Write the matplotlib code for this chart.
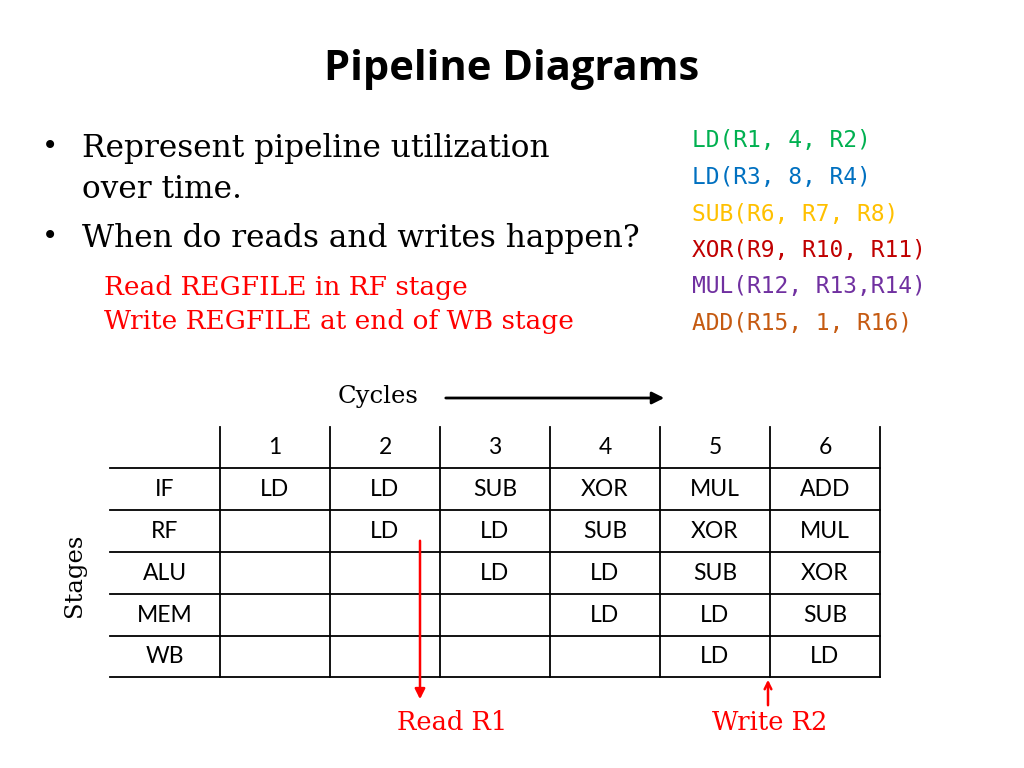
import matplotlib.pyplot as plt

# --- Data ---
title = 'Pipeline Diagrams'
bullets = ['Represent pipeline utilization\nover time.', 'When do reads and writes happen?']
notes = ['Read REGFILE in RF stage', 'Write REGFILE at end of WB stage']
code_lines = ['LD(R1, 4, R2)', 'LD(R3, 8, R4)', 'SUB(R6, R7, R8)',
              'XOR(R9, R10, R11)', 'MUL(R12, R13,R14)', 'ADD(R15, 1, R16)']
code_colors = ['#00b050', '#0070c0', '#ffc000', '#c00000', '#7030a0', '#c55a11']
cycles = ['1', '2', '3', '4', '5', '6']
stages = ['IF', 'RF', 'ALU', 'MEM', 'WB']
table = [
    ['LD', 'LD', 'SUB', 'XOR', 'MUL', 'ADD'],
    ['', 'LD', 'LD', 'SUB', 'XOR', 'MUL'],
    ['', '', 'LD', 'LD', 'SUB', 'XOR'],
    ['', '', '', 'LD', 'LD', 'SUB'],
    ['', '', '', '', 'LD', 'LD'],
]

RED = '#ff0000'
serif = 'DejaVu Serif'
mono = 'DejaVu Sans Mono'
sans = 'Lato'

fig = plt.figure(figsize=(10.24, 7.68), dpi=100)
ax = fig.add_axes([0, 0, 1, 1])
ax.set_xlim(0, 1024)
ax.set_ylim(768, 0)
ax.axis('off')

ax.text(512, 70, title, ha='center', va='center', fontsize=30, fontweight='bold', family='Open Sans')

# bullets
bfs = 22.5
ax.text(42, 148, '\u2022', fontsize=20, va='center', family=serif)
ax.text(82, 148, 'Represent pipeline utilization', fontsize=bfs, va='center', family=serif)
ax.text(82, 190, 'over time.', fontsize=bfs, va='center', family=serif)
ax.text(42, 238, '\u2022', fontsize=20, va='center', family=serif)
ax.text(82, 238, bullets[1], fontsize=bfs, va='center', family=serif)
for i, n in enumerate(notes):
    ax.text(104, 287 + 34 * i, n, fontsize=19, va='center', color=RED, family=serif)

for i, (c, col) in enumerate(zip(code_lines, code_colors)):
    ax.text(692, 141 + 36.5 * i, c, fontsize=16.5, va='center', color=col, family=mono)

# cycles arrow
ax.text(378, 397, 'Cycles', fontsize=17.5, ha='center', va='center', family=serif)
ax.annotate('', xy=(667, 398), xytext=(443, 398),
            arrowprops=dict(arrowstyle='-|>', color='black', lw=2, mutation_scale=18))
ax.text(75, 575, 'Stages', fontsize=17.5, ha='center', va='center', rotation=90, family=serif)

# table
x0, cw = 110, 110
col_x = [220 + cw * i for i in range(len(cycles) + 1)]
row_y = [427, 468, 510, 552, 594, 636, 677]
for x in col_x:
    ax.plot([x, x], [row_y[0], row_y[-1]], color='black', lw=1.3)
for y in row_y[1:]:
    ax.plot([x0, col_x[-1]], [y, y], color='black', lw=1.3)
tfs = 16.5
for j, c in enumerate(cycles):
    ax.text(col_x[j] + cw / 2, (row_y[0] + row_y[1]) / 2, c, ha='center', va='center', fontsize=tfs, family=sans)
for i, s in enumerate(stages):
    yc = (row_y[i + 1] + row_y[i + 2]) / 2
    ax.text(165, yc, s, ha='center', va='center', fontsize=tfs, family=sans)
    for j, v in enumerate(table[i]):
        if v:
            ax.text(col_x[j] + cw / 2, yc, v, ha='center', va='center', fontsize=tfs, family=sans)

# read / write arrows
ax.annotate('', xy=(420, 702), xytext=(420, 538),
            arrowprops=dict(arrowstyle='-|>', color=RED, lw=1.8, mutation_scale=15))
ax.text(452, 723, 'Read R1', fontsize=18.5, ha='center', va='center', color=RED, family=serif)
ax.annotate('', xy=(768, 677), xytext=(768, 708),
            arrowprops=dict(arrowstyle='->', color=RED, lw=1.8, mutation_scale=12))
ax.text(770, 723, 'Write R2', fontsize=18.5, ha='center', va='center', color=RED, family=serif)

fig.savefig('out.png', dpi=100)
